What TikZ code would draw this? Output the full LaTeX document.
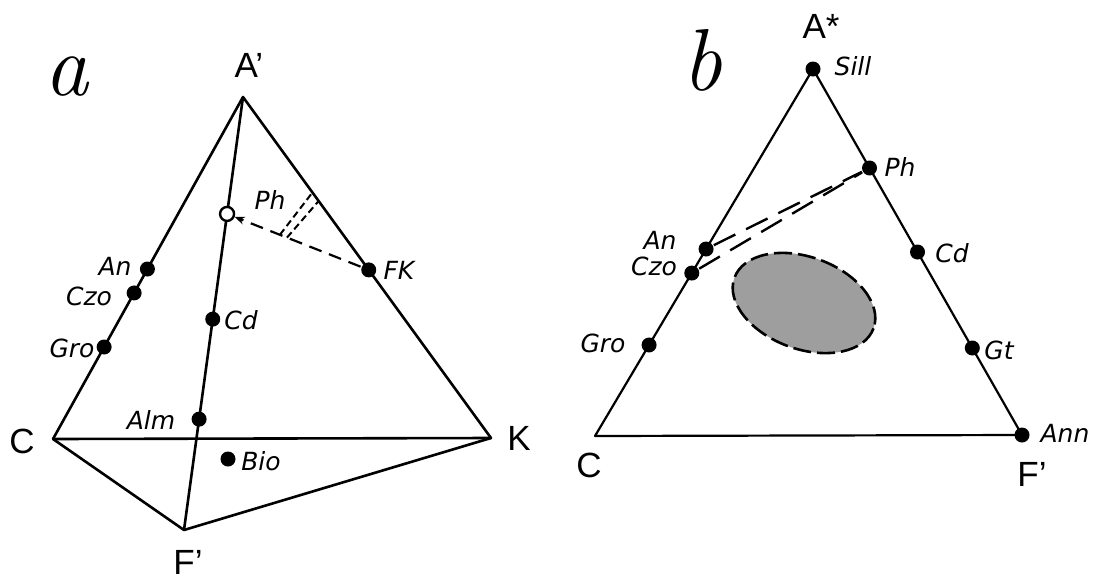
\documentclass[tikz,border=0pt]{standalone}
\usepackage{fontspec}
\newfontfamily\sans{Liberation Sans}
\newfontfamily\labfont{DejaVu Sans}
\usetikzlibrary{arrows.meta}
\begin{document}
\begin{tikzpicture}[x=1pt,y=-1pt,line width=2.6pt,line join=round,
  dot/.style={circle,fill=black,draw=none,inner sep=0pt,minimum size=15pt},
  odot/.style={circle,draw=black,fill=white,line width=2.4pt,inner sep=0pt,minimum size=14pt},
  vlab/.style={font=\sans\fontsize{35}{40}\selectfont,inner sep=0pt},
  mlab/.style={font=\labfont\itshape\fontsize{25}{28}\selectfont,inner sep=0pt},
  plab/.style={font=\itshape\fontsize{88}{94}\selectfont,inner sep=0pt},
  longdash/.style={dash pattern=on 24pt off 12pt,line width=2.4pt},
  shortdash/.style={dash pattern=on 13pt off 8pt,line width=2.2pt}]
\useasboundingbox (0,0) rectangle (1101,582);
\fill[white] (0,0) rectangle (1101,582);
% ---------------- panel a ----------------
\coordinate (Aa) at (243,97);
\coordinate (Ca) at (53,439);
\coordinate (Ka) at (491,438);
\coordinate (Fa) at (184,530);
\draw (Aa) -- (Ca) -- (Fa) -- (Ka) -- cycle;
\draw (Ca) -- (Ka);
\draw (Aa) -- (Fa);
\path (Aa) -- (Ca) node[pos=0.503,dot] (An) {} node[pos=0.573,dot] (Czo) {} node[pos=0.731,dot] (Gro) {};
\path (Aa) -- (Fa) node[pos=0.27,odot] (ox) {} node[pos=0.513,dot] (Cd) {} node[pos=0.744,dot] (Alm) {};
\path (Aa) -- (Ka) node[pos=0.507,dot] (FK) {};
\node[dot] (Bio) at (228,459) {};
\draw[shortdash,-{Stealth[length=10pt,width=8pt]}] (FK) -- (ox);
\path (FK.center) -- (ox.center) coordinate[pos=0.627] (d1) coordinate[pos=0.577] (d2);
\path (Aa) -- (Ka) coordinate[pos=0.28] (e1) coordinate[pos=0.305] (e2);
\draw[dash pattern=on 7pt off 4pt,line width=2pt] (d1) -- (e1) (d2) -- (e2);
\node[vlab] (lAa) at (249,65) {A’};
\node[vlab] (lCa) at (22,441) {C};
\node[vlab] (lKa) at (519,438) {K};
\node[vlab] (lFa) at (188,562) {F’};
\node[plab] (la) at (66,77) {a};
\node[mlab] (tAn) at (115,266) {An};
\node[mlab] (tCzo) at (89,296) {Czo};
\node[mlab] (tGro) at (72,348) {Gro};
\node[mlab] (tPh) at (270,200) {Ph};
\node[mlab] (tFK) at (399,270) {FK};
\node[mlab] (tCd) at (241,320) {Cd};
\node[mlab] (tAlm) at (151,420) {Alm};
\node[mlab] (tBio) at (261,461) {Bio};
% ---------------- panel b ----------------
\begin{scope}[line width=2.2pt]
\coordinate (Ab) at (813,69);
\coordinate (Cb) at (595,436);
\coordinate (Fb) at (1022,435);
\draw (Ab) -- (Cb) -- (Fb) -- cycle;
\node[dot] (Sill) at (Ab) {};
\node[dot] (Ann) at (Fb) {};
\path (Ab) -- (Fb) node[pos=0.2705,dot] (Ph) {} node[pos=0.5,dot] (Cdb) {} node[pos=0.7623,dot] (Gt) {};
\path (Ab) -- (Cb) node[pos=0.4905,dot] (Anb) {} node[pos=0.556,dot] (Czob) {} node[pos=0.752,dot] (Grob) {};
\draw[longdash] (Anb) -- (Ph);
\draw[longdash] (Czob) -- (Ph);
\draw[dash pattern=on 18pt off 6pt,line width=2.6pt,fill=black!38] (804,303) ellipse [x radius=74, y radius=46, rotate=-20];
\end{scope}
\node[vlab] (lAb) at (821,26) {A*};
\node[vlab] (lCb) at (589,465) {C};
\node[vlab] (lFb) at (1032,474) {F’};
\node[plab] (lb) at (702,60) {b};
\node[mlab] (tSill) at (853,66) {Sill};
\node[mlab] (tPh2) at (900,167) {Ph};
\node[mlab] (tCd2) at (952,253) {Cd};
\node[mlab] (tGt) at (999,350) {Gt};
\node[mlab] (tAnn) at (1065,433) {Ann};
\node[mlab] (tAn2) at (660,240) {An};
\node[mlab] (tCzo2) at (654,266) {Czo};
\node[mlab] (tGro2) at (603,343) {Gro};
\end{tikzpicture}
\end{document}
